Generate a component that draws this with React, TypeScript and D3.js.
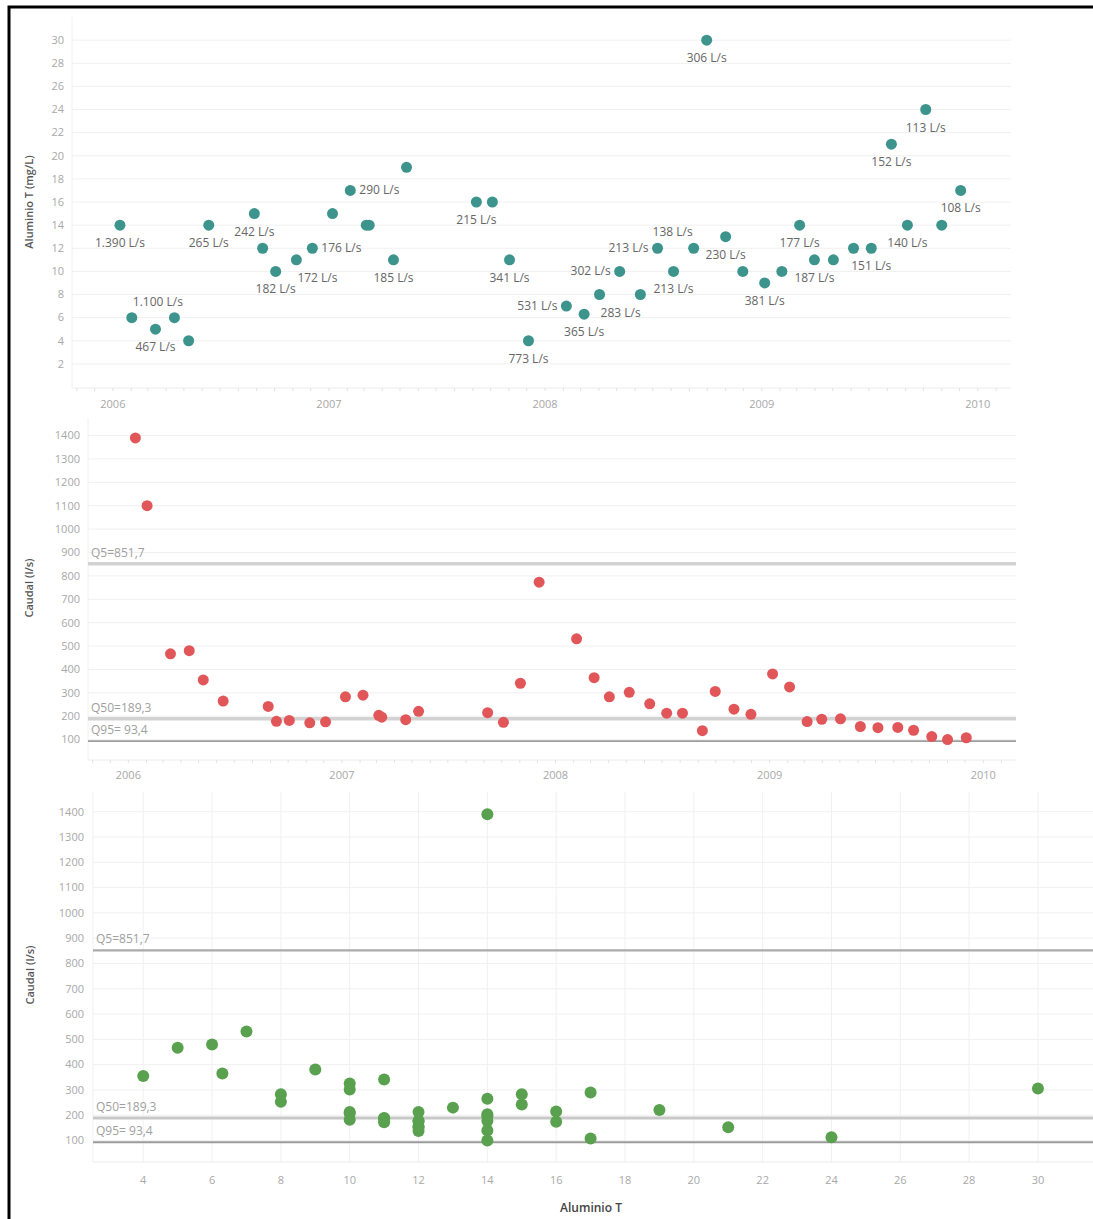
import * as d3 from "d3";
import React, { useRef, useEffect } from "react";

// one row per sample (fecha, aluminio total, caudal)
const dates = [
  "2006-01-13", "2006-02-02", "2006-03-14", "2006-04-15", "2006-05-09",
  "2006-06-12", "2006-08-28", "2006-09-11", "2006-10-03", "2006-11-07",
  "2006-12-04", "2007-01-07", "2007-02-06", "2007-03-05", "2007-03-10",
  "2007-04-20", "2007-05-12", "2007-09-07", "2007-10-04", "2007-11-02",
  "2007-12-04", "2008-02-06", "2008-03-07", "2008-04-02", "2008-05-06",
  "2008-06-10", "2008-07-09", "2008-08-05", "2008-09-08", "2008-09-30",
  "2008-11-01", "2008-11-30", "2009-01-06", "2009-02-04", "2009-03-06",
  "2009-03-31", "2009-05-02", "2009-06-05", "2009-07-05", "2009-08-08",
  "2009-09-04", "2009-10-05", "2009-11-01", "2009-12-03",
];
const aluminio = [
  14, 6, 5, 6, 4, 14, 15, 12, 10, 11, 12, 15, 17, 14, 14, 11, 19, 16, 16, 11,
  4, 7, 6.3, 8, 10, 8, 12, 10, 12, 30, 13, 10, 9, 10, 14, 11, 11, 12, 12, 21,
  14, 24, 14, 17,
];
const caudal = [
  1390, 1100, 467, 480, 355, 265, 242, 178, 182, 172, 176, 283, 290, 204, 196,
  185, 221, 215, 174, 341, 773, 531, 365, 283, 302, 253, 213, 213, 138, 306,
  230, 208, 381, 325, 177, 187, 189, 156, 151, 152, 140, 113, 100, 108,
];
// where the caudal label sits next to the dot in the top chart ("" = no label)
const labelPos = [
  "b", "ar", "b", "", "", "b", "b", "", "b", "br",
  "r", "", "r", "", "", "b", "", "b", "", "b",
  "b", "l", "b", "br", "l", "", "l", "b", "al", "b",
  "b", "", "b", "", "b", "b", "", "", "b", "b",
  "b", "b", "", "b",
];
// samples left out of the Aluminio vs Caudal scatter
const notInScatter = ["2006-02-02", "2007-12-04"];

const refNames = ["Q5", "Q50", "Q95"];
const refValues = [851.7, 189.3, 93.4];

const alTicks = [2, 4, 6, 8, 10, 12, 14, 16, 18, 20, 22, 24, 26, 28, 30];
const caudalTicks = [100, 200, 300, 400, 500, 600, 700, 800, 900, 1000, 1100, 1200, 1300, 1400];
const yearTicks = ["2006", "2007", "2008", "2009", "2010"];
const alXTicks = [4, 6, 8, 10, 12, 14, 16, 18, 20, 22, 24, 26, 28, 30];

const parse = d3.timeParse("%Y-%m-%d");
const es = d3.formatLocale({ decimal: ",", thousands: ".", grouping: [3], currency: ["", "€"] });
const fmtQ = es.format(",d");
const fmtRef = es.format("5.1f");

const TEAL = "#3d948d";
const RED = "#e15759";
const GREEN = "#59a14f";
const GRID = "#f0f0f0";
const TICK = "#a8a8a8";

function App() {
  const ref = useRef<SVGSVGElement>(null);

  useEffect(() => {
    draw();
  }, []);

  const draw = () => {
    const svg = d3.select(ref.current);
    svg.selectAll("*").remove();

    const rows = dates.map((d, i) => ({
      key: d,
      date: parse(d) as Date,
      al: aluminio[i],
      q: caudal[i],
      pos: labelPos[i],
    }));
    const timeDomain = [parse("2005-10-24") as Date, parse("2010-02-26") as Date];
    const years = yearTicks.map((y) => parse(y + "-01-01") as Date);

    const hGrid = (g, ticks, y, x0, x1) => {
      g.append("g")
        .selectAll("line")
        .data(ticks)
        .join("line")
        .attr("x1", x0)
        .attr("x2", x1)
        .attr("y1", (d) => y(d))
        .attr("y2", (d) => y(d))
        .attr("stroke", GRID)
        .attr("stroke-width", 1);
    };
    const yLabels = (g, ticks, y, x) => {
      g.append("g")
        .selectAll("text")
        .data(ticks)
        .join("text")
        .attr("x", x)
        .attr("y", (d) => y(d))
        .attr("dy", "0.35em")
        .attr("text-anchor", "end")
        .attr("font-size", 11)
        .attr("fill", TICK)
        .text((d) => d);
    };
    const yTitle = (g, label, x, y) => {
      g.append("text")
        .attr("transform", `translate(${x},${y}) rotate(-90)`)
        .attr("text-anchor", "middle")
        .attr("font-size", 11)
        .attr("font-weight", 600)
        .attr("fill", "#555")
        .text(label);
    };
    const timeAxis = (g, x, yLine, yText) => {
      const [x0, x1] = x.range();
      g.append("line")
        .attr("x1", x0)
        .attr("x2", x1)
        .attr("y1", yLine)
        .attr("y2", yLine)
        .attr("stroke", "#ececec");
      g.append("g")
        .selectAll("line")
        .data(d3.timeMonth.range(timeDomain[0], timeDomain[1]))
        .join("line")
        .attr("x1", (d) => x(d))
        .attr("x2", (d) => x(d))
        .attr("y1", yLine)
        .attr("y2", yLine + 3)
        .attr("stroke", "#e2e2e2");
      g.append("g")
        .selectAll("text")
        .data(years)
        .join("text")
        .attr("x", (d) => x(d))
        .attr("y", yText)
        .attr("text-anchor", "middle")
        .attr("font-size", 11)
        .attr("fill", TICK)
        .text((d) => d3.timeFormat("%Y")(d));
    };
    const refLines = (g, y, x0, x1, styles) => {
      refValues.forEach((v, i) => {
        g.append("line")
          .attr("x1", x0)
          .attr("x2", x1)
          .attr("y1", y(v))
          .attr("y2", y(v))
          .attr("stroke", styles[i][0])
          .attr("stroke-width", styles[i][1]);
        g.append("text")
          .attr("x", x0 + 3)
          .attr("y", y(v) - 7)
          .attr("font-size", 12)
          .attr("fill", "#a0a0a0")
          .style("white-space", "pre")
          .text(`${refNames[i]}=${fmtRef(v)}`);
      });
    };

    // ---------- top: Aluminio T over time ----------
    const gTop = svg.append("g");
    const xTop = d3.scaleTime().domain(timeDomain).range([72, 1011]);
    const yTop = d3.scaleLinear().domain([0, 32]).range([387, 17]);
    gTop.append("line").attr("x1", 72).attr("x2", 72).attr("y1", 17).attr("y2", 388).attr("stroke", GRID);
    hGrid(gTop, alTicks, yTop, 72, 1011);
    timeAxis(gTop, xTop, 388, 408);
    yLabels(gTop, alTicks, yTop, 64);
    yTitle(gTop, "Aluminio T (mg/L)", 33, 202);

    gTop.append("g")
      .selectAll("circle")
      .data(rows)
      .join("circle")
      .attr("cx", (d) => xTop(d.date))
      .attr("cy", (d) => yTop(d.al))
      .attr("r", 5.5)
      .attr("fill", TEAL);

    const lab = {
      b: [0, 22, "middle"],
      br: [1, 22, "start"],
      r: [9, 4, "start"],
      l: [-9, 4, "end"],
      ar: [1, -12, "start"],
      al: [-1, -12, "end"],
    };
    gTop.append("g")
      .selectAll("text")
      .data(rows.filter((d) => d.pos))
      .join("text")
      .attr("x", (d) => xTop(d.date) + lab[d.pos][0])
      .attr("y", (d) => yTop(d.al) + lab[d.pos][1])
      .attr("text-anchor", (d) => lab[d.pos][2])
      .attr("font-size", 12)
      .attr("fill", "#666")
      .text((d) => `${fmtQ(d.q)} L/s`);

    // ---------- middle: Caudal over time ----------
    const gMid = svg.append("g");
    const xMid = d3.scaleTime().domain(timeDomain).range([88, 1016]);
    const yMid = d3.scaleLinear().domain([0, 1475]).range([763, 418]);
    gMid.append("line").attr("x1", 88).attr("x2", 88).attr("y1", 418).attr("y2", 760).attr("stroke", GRID);
    hGrid(gMid, caudalTicks, yMid, 88, 1016);
    timeAxis(gMid, xMid, 760, 779);
    yLabels(gMid, caudalTicks, yMid, 80);
    yTitle(gMid, "Caudal (l/s)", 33, 588);
    refLines(gMid, yMid, 88, 1016, [
      ["#d2d2d2", 3.5],
      ["#d2d2d2", 3.5],
      ["#9c9c9c", 1.8],
    ]);
    gMid.append("g")
      .selectAll("circle")
      .data(rows)
      .join("circle")
      .attr("cx", (d) => xMid(d.date))
      .attr("cy", (d) => yMid(d.q))
      .attr("r", 5.5)
      .attr("fill", RED);

    // ---------- bottom: Caudal vs Aluminio T ----------
    const gBot = svg.append("g");
    const xBot = d3.scaleLinear().domain([2.54, 31.6]).range([93, 1093]);
    const yBot = d3.scaleLinear().domain([15, 1478]).range([1162, 792]);
    gBot.append("g")
      .selectAll("line")
      .data(alXTicks)
      .join("line")
      .attr("x1", (d) => xBot(d))
      .attr("x2", (d) => xBot(d))
      .attr("y1", 792)
      .attr("y2", 1162)
      .attr("stroke", GRID);
    gBot.append("line").attr("x1", 93).attr("x2", 93).attr("y1", 792).attr("y2", 1162).attr("stroke", GRID);
    hGrid(gBot, caudalTicks, yBot, 93, 1093);
    gBot.append("line").attr("x1", 93).attr("x2", 1093).attr("y1", 1162).attr("y2", 1162).attr("stroke", "#ececec");
    yLabels(gBot, caudalTicks, yBot, 84);
    gBot.append("g")
      .selectAll("text")
      .data(alXTicks)
      .join("text")
      .attr("x", (d) => xBot(d))
      .attr("y", 1184)
      .attr("text-anchor", "middle")
      .attr("font-size", 11)
      .attr("fill", TICK)
      .text((d) => d);
    yTitle(gBot, "Caudal (l/s)", 34, 975);
    gBot.append("text")
      .attr("x", 591)
      .attr("y", 1212)
      .attr("text-anchor", "middle")
      .attr("font-size", 12)
      .attr("font-weight", 600)
      .attr("fill", "#444")
      .text("Aluminio T");
    refLines(gBot, yBot, 93, 1093, [
      ["#aaaaaa", 2.2],
      ["#c8c8c8", 3],
      ["#9a9a9a", 2],
    ]);
    gBot.append("g")
      .selectAll("circle")
      .data(rows.filter((d) => !notInScatter.includes(d.key)))
      .join("circle")
      .attr("cx", (d) => xBot(d.al))
      .attr("cy", (d) => yBot(d.q))
      .attr("r", 6)
      .attr("fill", GREEN);

    // frame
    svg.append("path")
      .attr("d", "M9,1219 V7 H1093")
      .attr("fill", "none")
      .attr("stroke", "#000")
      .attr("stroke-width", 3);
  };

  return (
    <svg
      ref={ref}
      width={1093}
      height={1219}
      style={{ position: "absolute", left: 0, top: 0, background: "#fff", fontFamily: "'Open Sans', sans-serif" }}
    ></svg>
  );
}

export default App;
